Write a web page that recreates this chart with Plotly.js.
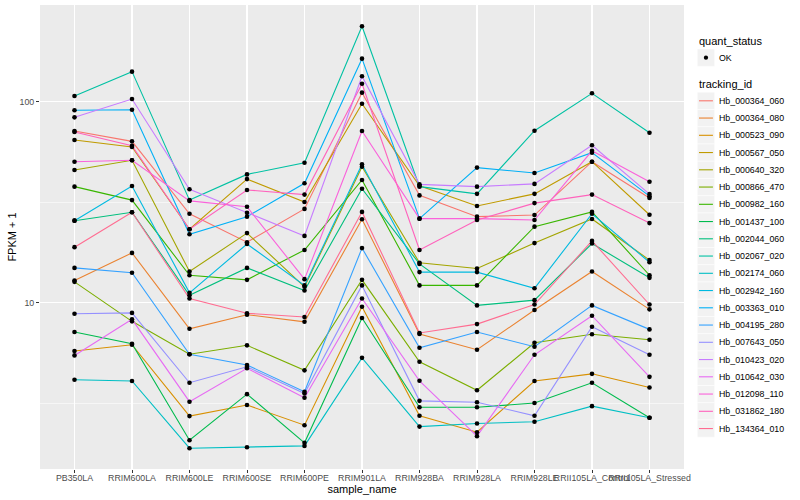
<!DOCTYPE html>
<html>
<head>
<meta charset="utf-8">
<script src="https://cdn.plot.ly/plotly-3.0.1.min.js"></script>
<style>html,body{margin:0;padding:0;background:#fff;}#chart{width:800px;height:500px;}</style>
</head>
<body>
<div id="chart"></div>
<script>
// ---- data (FPKM + 1) ----
const samples = ["PB350LA","RRIM600LA","RRIM600LE","RRIM600SE","RRIM600PE","RRIM901LA","RRIM928BA","RRIM928LA","RRIM928LE","RRII105LA_Control","RRII105LA_Stressed"];
const trackingIds = ["Hb_000364_060","Hb_000364_080","Hb_000523_090","Hb_000567_050","Hb_000640_320","Hb_000866_470","Hb_000982_160","Hb_001437_100","Hb_002044_060","Hb_002067_020","Hb_002174_060","Hb_002942_160","Hb_003363_010","Hb_004195_280","Hb_007643_050","Hb_010423_020","Hb_010642_030","Hb_012098_110","Hb_031862_180","Hb_134364_010"];
const colors = ["#F8766D","#EA8331","#D89000","#C09B00","#A3A500","#7CAE00","#39B600","#00BB4E","#00BF7D","#00C1A3","#00BFC4","#00BAE0","#00B0F6","#35A2FF","#9590FF","#C77CFF","#E76BF3","#FA62DB","#FF62BC","#FF6C91"];

const Hb_000364_060 = [71.5, 63.5, 27.7, 20.0, 29.3, 110.9, 34.2, 26.8, 27.3, 50.3, 33.2];
const Hb_000364_080 = [12.9, 17.7, 7.42, 8.72, 8.04, 26.0, 6.99, 5.84, 9.2, 14.3, 9.27];
const Hb_000523_090 = [5.75, 6.18, 2.73, 3.10, 2.46, 9.55, 2.74, 2.27, 4.08, 4.43, 3.79];
const Hb_000567_050 = [64.5, 59.5, 23.2, 41.2, 31.7, 97.7, 38.2, 30.3, 34.8, 50.3, 27.4];
const Hb_000640_320 = [45.7, 51.1, 14.3, 22.2, 12.0, 47.5, 15.8, 14.8, 19.8, 26.1, 16.3];
const Hb_000866_470 = [12.7, 8.08, 5.54, 6.14, 4.61, 13.0, 5.09, 3.67, 6.32, 6.97, 6.55];
const Hb_000982_160 = [37.8, 32.4, 13.7, 13.0, 18.3, 40.8, 12.2, 12.2, 23.9, 28.3, 13.7];
const Hb_001437_100 = [7.15, 6.25, 2.07, 3.51, 2.01, 8.39, 3.02, 3.02, 3.17, 4.0, 2.68];
const Hb_002044_060 = [25.6, 28.2, 10.9, 14.9, 11.5, 36.9, 15.6, 9.7, 10.3, 19.7, 13.3];
const Hb_002067_020 = [106.7, 141.1, 32.4, 43.5, 49.7, 237.2, 37.8, 34.8, 71.7, 110.1, 70.1];
const Hb_002174_060 = [4.14, 4.08, 1.89, 1.91, 1.94, 5.32, 2.42, 2.51, 2.56, 3.06, 2.68];
const Hb_002942_160 = [25.6, 38.1, 11.2, 19.6, 12.2, 48.8, 14.2, 14.2, 11.8, 27.7, 15.9];
const Hb_003363_010 = [90.6, 91.2, 21.9, 26.8, 39.3, 163.7, 26.2, 47.0, 44.2, 55.8, 33.9];
const Hb_004195_280 = [14.9, 14.1, 5.54, 4.9, 3.61, 18.7, 5.97, 7.15, 6.04, 9.7, 7.37];
const Hb_007643_050 = [8.82, 8.9, 4.0, 4.8, 3.54, 12.2, 3.25, 3.20, 2.74, 7.6, 5.51];
const Hb_010423_020 = [83.6, 103.1, 36.7, 28.0, 21.5, 133.8, 38.8, 37.8, 39.0, 60.7, 34.7];
const Hb_010642_030 = [5.47, 8.27, 3.22, 4.72, 3.37, 10.5, 4.09, 2.17, 5.51, 8.62, 4.28];
const Hb_012098_110 = [50.3, 51.1, 32.1, 30.0, 13.1, 71.5, 26.2, 26.2, 25.8, 57.0, 40.0];
const Hb_031862_180 = [70.7, 60.4, 23.2, 36.4, 34.5, 122.9, 18.3, 25.8, 31.3, 34.5, 24.9];
const Hb_134364_010 = [18.9, 28.2, 10.5, 8.86, 8.49, 28.3, 7.07, 7.83, 9.8, 20.3, 9.8];

const seriesValues = [Hb_000364_060, Hb_000364_080, Hb_000523_090, Hb_000567_050, Hb_000640_320, Hb_000866_470, Hb_000982_160, Hb_001437_100, Hb_002044_060, Hb_002067_020, Hb_002174_060, Hb_002942_160, Hb_003363_010, Hb_004195_280, Hb_007643_050, Hb_010423_020, Hb_010642_030, Hb_012098_110, Hb_031862_180, Hb_134364_010];
const yTickVals = [10, 100];
const yTickText = ["10", "100"];
const yMinorVals = [3.1623, 31.623, 316.23];

// ---- traces ----
const traces = [];
seriesValues.forEach((vals, i) => {
  traces.push({
    type: "scatter", mode: "lines", x: samples, y: vals, name: trackingIds[i],
    line: {color: colors[i], width: 1.1}, showlegend: false, hoverinfo: "skip"
  });
});
seriesValues.forEach((vals, i) => {
  traces.push({
    type: "scatter", mode: "markers", x: samples, y: vals, name: trackingIds[i] + " OK",
    marker: {color: "#000000", size: 4.6, line: {width: 0}}, showlegend: false, hoverinfo: "skip"
  });
});

// ---- layout helpers ----
const L = 40, R = 683.7, T = 5, B = 469;
const px2x = x => (x - L) / (R - L);
const px2y = y => (B - y) / (B - T);
const FONT = "Liberation Sans, Arial, Helvetica, sans-serif";

const shapes = [];
const annotations = [];

// legend: quant_status
annotations.push({xref: "paper", yref: "paper", x: px2x(697), y: px2y(41), text: "quant_status", showarrow: false, xanchor: "left", yanchor: "middle", font: {family: FONT, size: 11, color: "#000"}});
shapes.push({type: "rect", xref: "paper", yref: "paper", x0: px2x(697), x1: px2x(714.3), y0: px2y(49), y1: px2y(66.3), fillcolor: "#F2F2F2", line: {color: "#FFFFFF", width: 0.5}});
shapes.push({type: "circle", xref: "paper", yref: "paper", x0: px2x(703.5), x1: px2x(707.8), y0: px2y(55.5), y1: px2y(59.8), fillcolor: "#000", line: {width: 0}});
annotations.push({xref: "paper", yref: "paper", x: px2x(716.7), y: px2y(57.6), text: "OK", showarrow: false, xanchor: "left", yanchor: "middle", font: {family: FONT, size: 8.8, color: "#000"}});

// legend: tracking_id
annotations.push({xref: "paper", yref: "paper", x: px2x(697), y: px2y(84.3), text: "tracking_id", showarrow: false, xanchor: "left", yanchor: "middle", font: {family: FONT, size: 11, color: "#000"}});
trackingIds.forEach((id, i) => {
  const yc = 100.8 + 17.25 * i;
  shapes.push({type: "rect", xref: "paper", yref: "paper", x0: px2x(697), x1: px2x(714.3), y0: px2y(yc - 8.6), y1: px2y(yc + 8.6), fillcolor: "#F2F2F2", line: {color: "#FFFFFF", width: 0.5}});
  shapes.push({type: "line", xref: "paper", yref: "paper", x0: px2x(698.7), x1: px2x(712.6), y0: px2y(yc), y1: px2y(yc), line: {color: colors[i], width: 1.1}});
  annotations.push({xref: "paper", yref: "paper", x: px2x(716.7), y: px2y(yc), text: id, showarrow: false, xanchor: "left", yanchor: "middle", font: {family: FONT, size: 8.8, color: "#000"}});
});

const layout = {
  width: 800, height: 500, autosize: false,
  margin: {l: L, r: 800 - R, t: T, b: 500 - B, pad: 0},
  paper_bgcolor: "#FFFFFF", plot_bgcolor: "#EBEBEB",
  font: {family: FONT, size: 11, color: "#000"},
  showlegend: false,
  xaxis: {
    type: "category", categoryorder: "array", categoryarray: samples,
    range: [-0.6, samples.length - 1 + 0.6], tickangle: 0,
    showgrid: true, gridcolor: "#FFFFFF", gridwidth: 1.07, zeroline: false, showline: false,
    ticks: "outside", ticklen: 3, tickwidth: 1, tickcolor: "#333333",
    ticklabelstandoff: -3,
    tickfont: {family: FONT, size: 8.8, color: "#4D4D4D"},
    title: {text: "sample_name", font: {family: FONT, size: 11, color: "#000"}, standoff: 0},
    fixedrange: true
  },
  yaxis: {
    type: "log", range: [0.173, 2.481],
    tickmode: "array", tickvals: yTickVals, ticktext: yTickText,
    showgrid: true, gridcolor: "#FFFFFF", gridwidth: 1.07, zeroline: false, showline: false,
    ticks: "outside", ticklen: 3, tickwidth: 1, tickcolor: "#333333",
    tickfont: {family: FONT, size: 8.8, color: "#4D4D4D"},
    minor: {tickmode: "array", tickvals: yMinorVals, showgrid: true, gridcolor: "#FFFFFF", gridwidth: 0.53, ticks: ""},
    title: {text: "FPKM + 1", font: {family: FONT, size: 11, color: "#000"}, standoff: 0},
    fixedrange: true
  },
  shapes: shapes,
  annotations: annotations
};

Plotly.newPlot("chart", traces, layout, {staticPlot: true, displayModeBar: false});
</script>
</body>
</html>
